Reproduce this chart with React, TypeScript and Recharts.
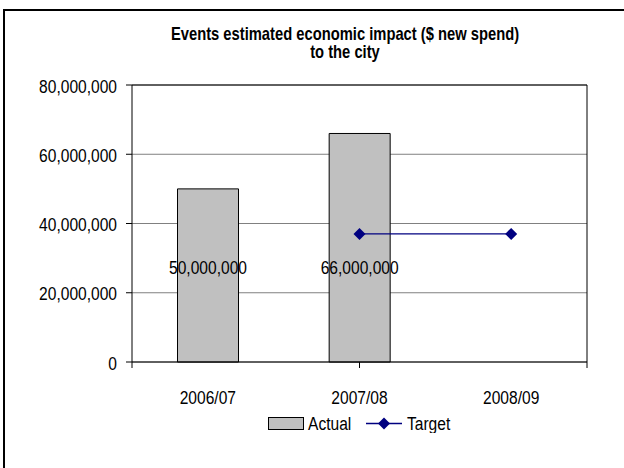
import React from "react";
import {
  ComposedChart,
  Bar,
  Line,
  XAxis,
  YAxis,
  CartesianGrid,
  Legend,
  LabelList,
  ReferenceLine,
} from "recharts";

const FONT = "'Liberation Sans', Arial, sans-serif";
const NAVY = "#000080";
const BAR_GREY = "#C0C0C0";
// Liberation Sans squeezed horizontally, close to Arial Narrow
const SQUEEZE = 0.82;
const FS = 19;

const seasons = ["2006/07", "2007/08", "2008/09"];
const actual = [50000000, 66000000, null];
const target = [null, 37000000, 37000000];
const yTicks = [0, 20000000, 40000000, 60000000, 80000000];
const edgeTicks = [0, 1, 2, 3];
const titleLines = ["Events estimated economic impact ($ new spend)", "to the city"];

const data = seasons.map((season, i) => ({
  season,
  actual: actual[i],
  target: target[i],
}));

const fmt = (v: number) => new Intl.NumberFormat("en-US").format(v);

const NarrowText = ({
  x,
  y,
  anchor = "middle",
  bold = false,
  size = FS,
  children,
}: {
  x: number;
  y: number;
  anchor?: "start" | "middle" | "end";
  bold?: boolean;
  size?: number;
  children: React.ReactNode;
}) => (
  <text
    transform={`translate(${x},${y}) scale(${SQUEEZE},1)`}
    textAnchor={anchor}
    dominantBaseline="central"
    fontSize={size}
    fontFamily={FONT}
    fontWeight={bold ? "bold" : "normal"}
    fill="#000"
  >
    {children}
  </text>
);

const Diamond = (props: any) => {
  const { cx, cy, value } = props;
  if (value == null || cx == null || cy == null) return <g />;
  const r = 6;
  return (
    <polygon
      points={`${cx},${cy - r} ${cx + r},${cy} ${cx},${cy + r} ${cx - r},${cy}`}
      fill={NAVY}
    />
  );
};

// value label sits a fixed distance above the bar base
const BarValue = (props: any) => {
  const { x, y, width, height, value } = props;
  if (value == null) return null;
  return (
    <NarrowText x={x + width / 2} y={y + height - 95}>
      {fmt(value)}
    </NarrowText>
  );
};

const YTick = (props: any) => (
  <NarrowText x={props.x} y={props.y + 1} anchor="end">
    {fmt(props.payload.value)}
  </NarrowText>
);

const XTick = (props: any) => (
  <NarrowText x={props.x} y={props.y}>
    {props.payload.value}
  </NarrowText>
);

const EmptyTick = () => <g />;

const LegendBox = () => (
  <svg width={624} height={20} style={{ display: "block" }}>
    <rect x={268.5} y={4.5} width={35} height={12} fill={BAR_GREY} stroke="#000" />
    <NarrowText x={308} y={10.5} anchor="start">
      Actual
    </NarrowText>
    <line x1={366} y1={10.5} x2={402} y2={10.5} stroke={NAVY} strokeWidth={1.3} />
    <Diamond cx={384} cy={10.5} value={1} />
    <NarrowText x={407} y={10.5} anchor="start">
      Target
    </NarrowText>
  </svg>
);

export default function App() {
  return (
    <div
      style={{
        position: "absolute",
        left: 0,
        top: 0,
        width: 624,
        height: 468,
        overflow: "hidden",
        background: "#fff",
      }}
    >
      <div style={{ position: "absolute", left: 0, top: 0 }}>
        <ComposedChart
          width={624}
          height={468}
          data={data}
          margin={{ top: 85, right: 0, bottom: 45, left: 0 }}
          barCategoryGap="30%"
        >
          <CartesianGrid
            yAxisId="val"
            xAxisId="b-cat"
            vertical={false}
            stroke="#808080"
          />
          <XAxis
            xAxisId="a-edges"
            type="number"
            domain={[0, 3]}
            ticks={edgeTicks}
            allowDataOverflow
            height={1}
            tick={EmptyTick}
            tickSize={6}
            tickLine={{ stroke: "#000" }}
            axisLine={{ stroke: "#000" }}
          />
          <XAxis
            xAxisId="b-cat"
            dataKey="season"
            height={40}
            tickLine={false}
            axisLine={false}
            tickSize={0}
            tickMargin={34}
            tick={XTick}
          />
          <YAxis
            yAxisId="val"
            width={132}
            domain={[0, 80000000]}
            ticks={yTicks}
            tickSize={6}
            tickMargin={9}
            tick={YTick}
            tickLine={{ stroke: "#000" }}
            axisLine={{ stroke: "#000" }}
          />
          <YAxis
            yAxisId="frame"
            orientation="right"
            width={37}
            domain={[0, 80000000]}
            tick={false}
            tickLine={false}
            axisLine={{ stroke: "#000" }}
          />
          <ReferenceLine yAxisId="val" xAxisId="b-cat" y={80000000} stroke="#000" />
          <Bar
            xAxisId="b-cat"
            yAxisId="val"
            dataKey="actual"
            name="Actual"
            fill={BAR_GREY}
            stroke="#000"
            strokeWidth={1}
            isAnimationActive={false}
          >
            <LabelList dataKey="actual" content={BarValue} />
          </Bar>
          <Line
            xAxisId="b-cat"
            yAxisId="val"
            dataKey="target"
            name="Target"
            stroke={NAVY}
            strokeWidth={1.3}
            dot={Diamond}
            activeDot={false}
            isAnimationActive={false}
          />
          <Legend
            verticalAlign="bottom"
            content={LegendBox}
            wrapperStyle={{ left: 0, top: 413, width: 624, height: 20 }}
          />
        </ComposedChart>
      </div>
      <svg
        width={624}
        height={468}
        style={{ position: "absolute", left: 0, top: 0, pointerEvents: "none" }}
      >
        <rect x={4} y={10} width={700} height={600} fill="none" stroke="#000" strokeWidth={2} />
        {titleLines.map((line, i) => (
          <NarrowText key={line} x={345} y={33 + i * 18} size={18} bold>
            {line}
          </NarrowText>
        ))}
      </svg>
    </div>
  );
}
